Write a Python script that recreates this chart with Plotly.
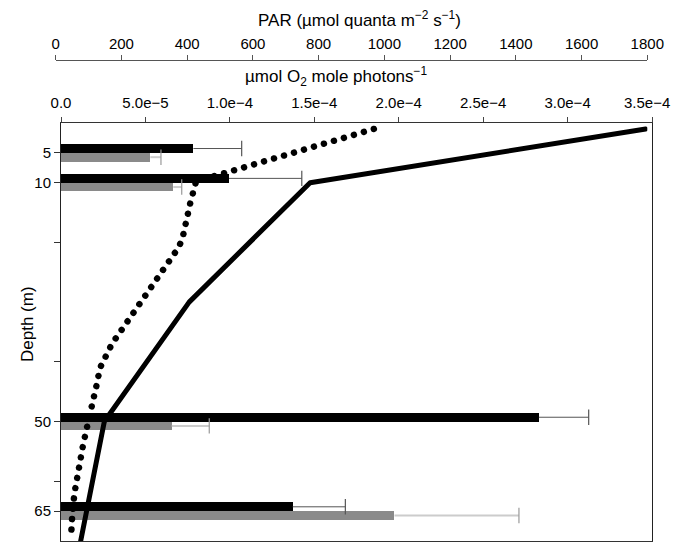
import plotly.graph_objects as go

# ---------------- data ----------------
depths = [5, 10, 50, 65]                       # m
black_vals = [7.84e-5, 9.95e-5, 2.83e-4, 1.372e-4]   # µmol O2 mole photons^-1
black_err = [2.86e-5, 4.31e-5, 2.95e-5, 3.12e-5]
gray_vals = [5.29e-5, 6.65e-5, 6.56e-5, 1.975e-4]
gray_err = [0.63e-5, 0.50e-5, 2.22e-5, 7.37e-5]

solid_depth = [1, 10, 30, 50, 70]
solid_par = [1795, 774, 406, 148, 76]

dot_depth = [1, 9.8, 13.5, 17, 19.5, 21, 25, 30, 35, 37, 39, 41, 44, 47, 50, 54, 58, 62, 66, 69]
dot_par = [968, 427, 409, 394, 385, 372, 322, 262, 200, 171, 153, 135, 124, 109, 99, 83, 68, 57, 50, 47]

o2_ticks = [0, 5e-5, 1e-4, 1.5e-4, 2e-4, 2.5e-4, 3e-4, 3.5e-4]
o2_ticktext = ["0.0", "5.0e\u22125", "1.0e\u22124", "1.5e\u22124", "2.0e\u22124",
               "2.5e\u22124", "3.0e\u22124", "3.5e\u22124"]
par_ticks = [0, 200, 400, 600, 800, 1000, 1200, 1400, 1600, 1800]
depth_ticks = [5, 10, 50, 65]
depth_minor_ticks = [20, 40, 60]

# ---------------- styling ----------------
FONT = "Liberation Sans, Arial, Helvetica, sans-serif"
BAR_W = 1.45
W, H = 675, 542
ML, MR, MT, MB = 55, 23, 60, 1
pw = W - ML - MR
ph = H - MT - MB

fig = go.Figure()

fig.add_trace(go.Bar(
    name="Series 1", orientation="h", x=black_vals, y=depths,
    width=BAR_W, offset=-BAR_W, marker=dict(color="#000000", line=dict(width=0)),
    xaxis="x", yaxis="y", showlegend=False))
fig.add_trace(go.Bar(
    name="Series 2", orientation="h", x=gray_vals, y=depths,
    width=BAR_W, offset=0, marker=dict(color="#8a8a8a", line=dict(width=0)),
    xaxis="x", yaxis="y", showlegend=False))


def err_trace(vals, errs, off, line_color, line_w, cap_color):
    xs, ys, cx, cy = [], [], [], []
    for v, e, d in zip(vals, errs, depths):
        yc = d + off
        xs += [v, v + e, None]
        ys += [yc, yc, None]
        cx.append(v + e)
        cy.append(yc)
    fig.add_trace(go.Scatter(x=xs, y=ys, mode="lines",
                             line=dict(color=line_color, width=line_w),
                             xaxis="x", yaxis="y", showlegend=False, hoverinfo="skip"))
    fig.add_trace(go.Scatter(x=cx, y=cy, mode="markers",
                             marker=dict(symbol="line-ns", size=11,
                                         line=dict(width=1.2, color=cap_color)),
                             xaxis="x", yaxis="y", showlegend=False, hoverinfo="skip"))


err_trace(black_vals, black_err, -BAR_W / 2, "#555555", 1, "#555555")
err_trace(gray_vals, gray_err, BAR_W / 2, "#cccccc", 2, "#999999")

fig.add_trace(go.Scatter(
    name="PAR profile 1", x=solid_par, y=solid_depth, mode="lines",
    line=dict(color="#000000", width=5), xaxis="x2", yaxis="y", showlegend=False))
fig.add_trace(go.Scatter(
    name="PAR profile 2", x=dot_par, y=dot_depth, mode="lines",
    line=dict(color="#000000", width=6.5, dash="5px,5.4px"),
    xaxis="x2", yaxis="y", showlegend=False))

ydom_top = (H - MB - 123) / ph

# the last O2 tick label is nudged inward (as in the original) via an annotation
axis_ticktext = o2_ticktext[:-1] + [""]

fig.update_layout(
    width=W, height=H,
    margin=dict(l=ML, r=MR, t=MT, b=MB, pad=0, autoexpand=False),
    paper_bgcolor="white", plot_bgcolor="rgba(0,0,0,0)",
    font=dict(family=FONT, size=15, color="#000000"),
    barmode="overlay", bargap=0,
    xaxis=dict(domain=[6 / pw, 1], anchor="y", side="top", automargin=False,
               range=[0, 3.5e-4], tickvals=o2_ticks, ticktext=axis_ticktext,
               ticks="outside", ticklen=5, tickcolor="#444444",
               ticklabelstandoff=3,
               showline=True, linecolor="#333333", linewidth=1, mirror=True,
               showgrid=False, zeroline=False, tickfont=dict(size=15)),
    xaxis2=dict(domain=[0.7 / pw, 592.3 / pw], anchor="free", position=1, side="top",
                automargin=False,
                range=[0, 1800], tickvals=par_ticks,
                ticks="outside", ticklen=5, tickcolor="#555555",
                ticklabeloverflow="allow",
                showline=True, linecolor="#555555", linewidth=1,
                showgrid=False, zeroline=False, tickfont=dict(size=15)),
    yaxis=dict(domain=[0, ydom_top], anchor="x", range=[70, 0], automargin=False,
               tickvals=depth_ticks,
               ticks="outside", ticklen=6, tickcolor="#333333",
               minor=dict(tickvals=depth_minor_ticks, ticks="outside", ticklen=6,
                          tickcolor="#333333", showgrid=False),
               showline=True, linecolor="#222222", linewidth=1, mirror=True,
               showgrid=False, zeroline=False, tickfont=dict(size=15)),
    annotations=[
        dict(text="PAR (\u00b5mol quanta m<sup>\u22122</sup> s<sup>\u22121</sup>)",
             xref="paper", yref="paper", x=(359 - ML) / pw, y=(H - MB - 19) / ph,
             xanchor="center", yanchor="middle", showarrow=False,
             font=dict(size=17)),
        dict(text="\u00b5mol O<sub>2</sub> mole photons<sup>\u22121</sup>",
             xref="paper", yref="paper", x=(336 - ML) / pw, y=(H - MB - 76) / ph,
             xanchor="center", yanchor="middle", showarrow=False,
             font=dict(size=17)),
        dict(text="Depth (m)", textangle=-90,
             xref="paper", yref="paper", x=(27 - ML) / pw, y=(H - MB - 324) / ph,
             xanchor="center", yanchor="middle", showarrow=False,
             font=dict(size=17)),
        dict(text=o2_ticktext[-1], xref="x", x=o2_ticks[-1], xshift=-5,
             yref="paper", y=(H - MB - 103) / ph,
             xanchor="center", yanchor="middle", showarrow=False,
             font=dict(size=15)),
    ],
)

post = """
var gd = document.getElementById('{plot_id}');
function fixLines(){
  try {
    var paths = gd.querySelectorAll('path.js-line');
    paths.forEach(function(p){
      var d = p.style.strokeDasharray || '';
      var w = parseFloat(p.style.strokeWidth || '0');
      if (d.indexOf('5.4') >= 0) {
        p.style.strokeDasharray = '0.01px, 10.4px';
        p.style.strokeLinecap = 'round';
      } else if (w >= 4) {
        p.style.strokeLinecap = 'round';
        p.style.strokeLinejoin = 'round';
      }
    });
  } catch(e) {}
}
fixLines();
if (gd && gd.on) { gd.on('plotly_afterplot', fixLines); }
"""

fig.write_html("out.html", post_script=post)
